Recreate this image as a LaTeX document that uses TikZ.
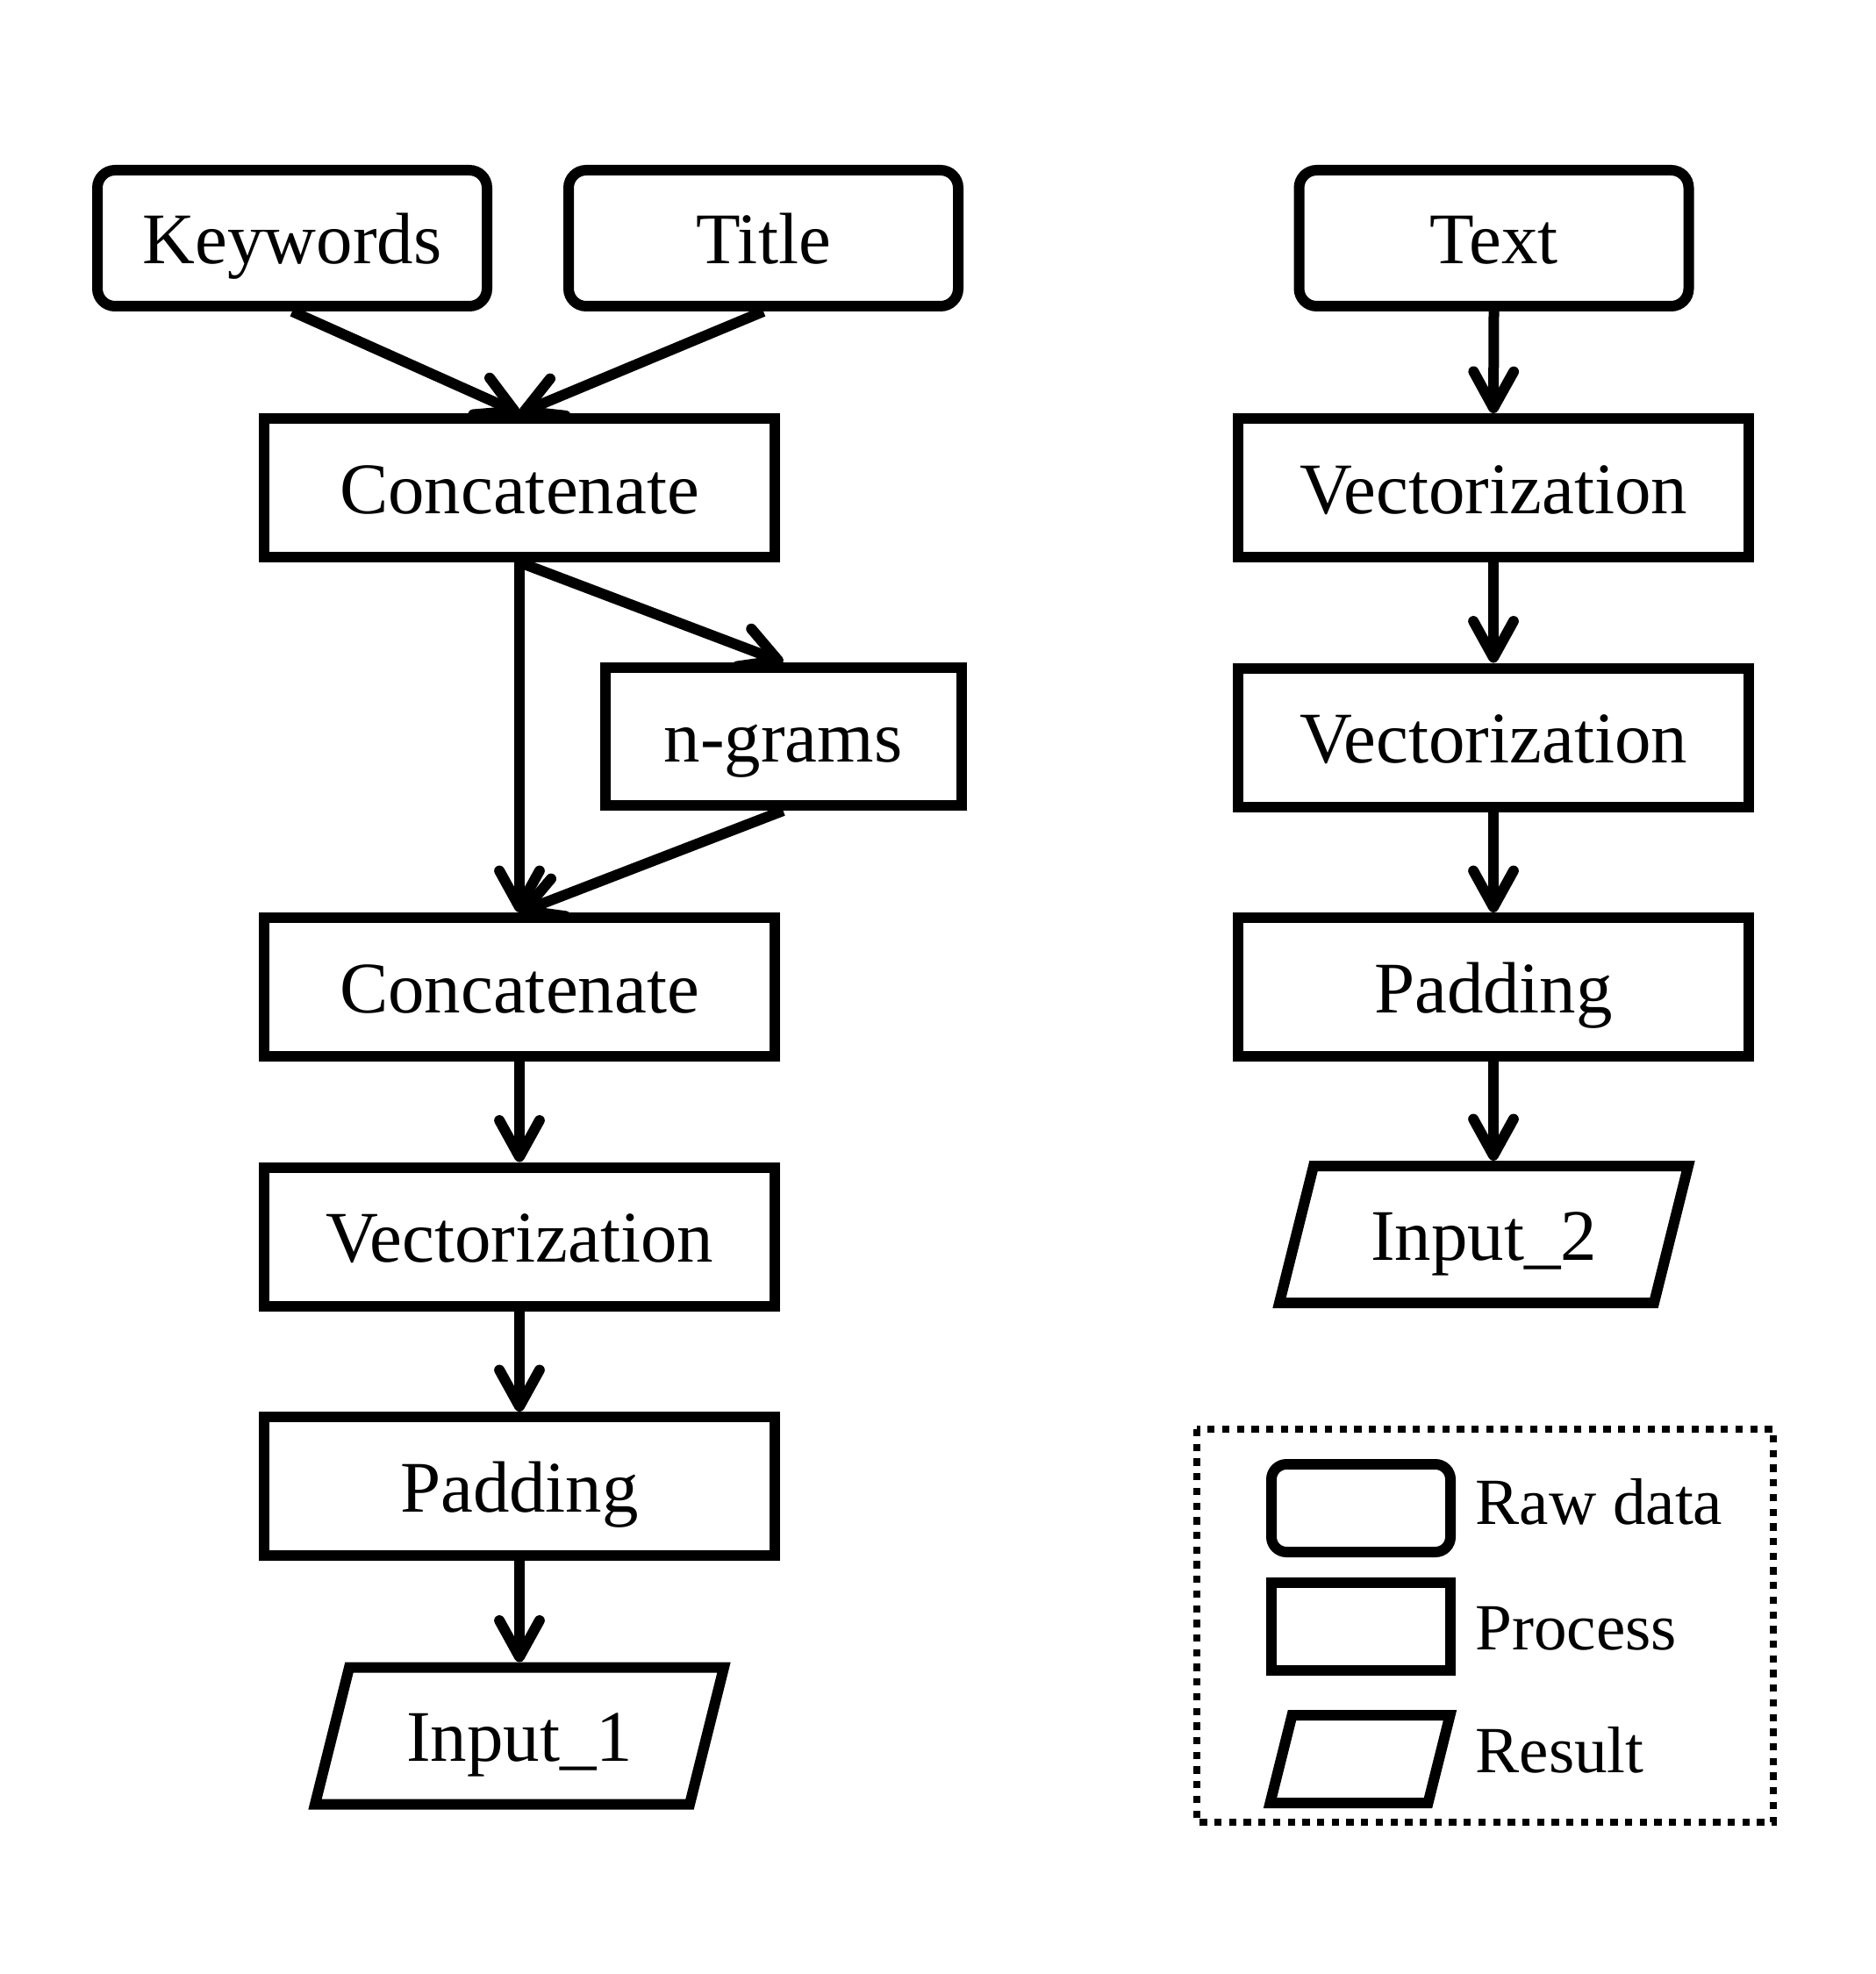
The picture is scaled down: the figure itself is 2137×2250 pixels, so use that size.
\documentclass[tikz,border=0pt]{standalone}
\usepackage{fontspec}
\setmainfont{Liberation Serif}
\usetikzlibrary{arrows.meta}
\begin{document}
\begin{tikzpicture}[x=0.35pt,y=-0.35pt,
  base/.style={draw=black, line width=4.2pt, inner sep=0pt, text height=20.5pt, text depth=0pt,
    font=\fontsize{29pt}{35pt}\selectfont, align=center},
  rawbox/.style={base, rounded corners=7pt, minimum width=155.4pt, minimum height=54.25pt},
  procbox/.style={base, minimum width=204pt, minimum height=55.3pt},
  resbox/.style={base, draw=none, minimum height=54.6pt},
  shapeline/.style={line width=4.2pt, line join=miter},
  arr/.style={line width=4.2pt, -{Straight Barb[length=14.5pt,width=16pt,round]}},
  legtext/.style={anchor=base west, inner sep=0pt, font=\fontsize{26.3pt}{31pt}\selectfont},
  legframe/.style={line width=2.8pt, dash pattern=on 2.9pt off 2.95pt}
]
\useasboundingbox (0,0) rectangle (2137,2250);

% left column
\node[rawbox] (kw) at (333,271.5) {Keywords};
\node[rawbox] (ti) at (870,271.5) {Title};
\node[procbox] (c1) at (592,556) {Concatenate};
\node[procbox, minimum width=142.1pt, minimum height=55pt] (ng) at (892.5,839.5) {n-grams};
\node[procbox] (c2) at (592,1125) {Concatenate};
\node[procbox] (v1) at (592,1409.5) {Vectorization};
\node[procbox] (p1) at (592,1694) {Padding};
\node[resbox] (in1) at (592,1978.5) {Input\_1};
\draw[shapeline] (in1.center) ++(-233,78) -- ++(39,-156) -- ++(427,0) -- ++(-39,156) -- cycle;

% right column
\node[rawbox] (tx) at (1702.5,271.5) {Text};
\node[procbox] (rv1) at (1702,556) {Vectorization};
\node[procbox] (rv2) at (1702,840.5) {Vectorization};
\node[procbox] (rp) at (1702,1125) {Padding};
\node[resbox] (in2) at (1691,1407) {Input\_2};
\draw[shapeline] (in2.center) ++(-233,78) -- ++(39,-156) -- ++(427,0) -- ++(-39,156) -- cycle;

% connectors left
\draw[arr] (kw.south) -- (c1.north);
\draw[arr] (ti.south) -- (c1.north);
\draw[arr] (c1.south) -- (c2.north);
\draw[arr] (c1.south) -- (ng.north);
\draw[arr] (ng.south) -- (c2.north);
\draw[arr] (c2.south) -- (v1.north);
\draw[arr] (v1.south) -- (p1.north);
\draw[arr] (p1.south) -- (in1.north);

% connectors right
\draw[arr] (tx.south) -- (rv1.north);
\draw[arr] (rv1.south) -- (rv2.north);
\draw[arr] (rv2.south) -- (rp.north);
\draw[arr] (rp.south) -- (rp.south |- in2.north);

% legend
\draw[legframe] (1364,1629) rectangle (2021,2077);
\node[base, rounded corners=6pt, minimum width=71.4pt, minimum height=35pt] (lraw) at (1551,1719) {};
\node[base, minimum width=71.6pt, minimum height=35pt] (lproc) at (1551,1854) {};
\node[resbox, minimum height=35pt] (lres) at (1550,2005) {};
\draw[shapeline] (lres.center) ++(-102.5,50) -- ++(25,-100) -- ++(180,0) -- ++(-25,100) -- cycle;
\node[legtext] (lrawt) at (1681,1737) {Raw data};
\node[legtext] (lproct) at (1681,1880) {Process};
\node[legtext] (lrest) at (1681,2020) {Result};
\end{tikzpicture}
\end{document}
